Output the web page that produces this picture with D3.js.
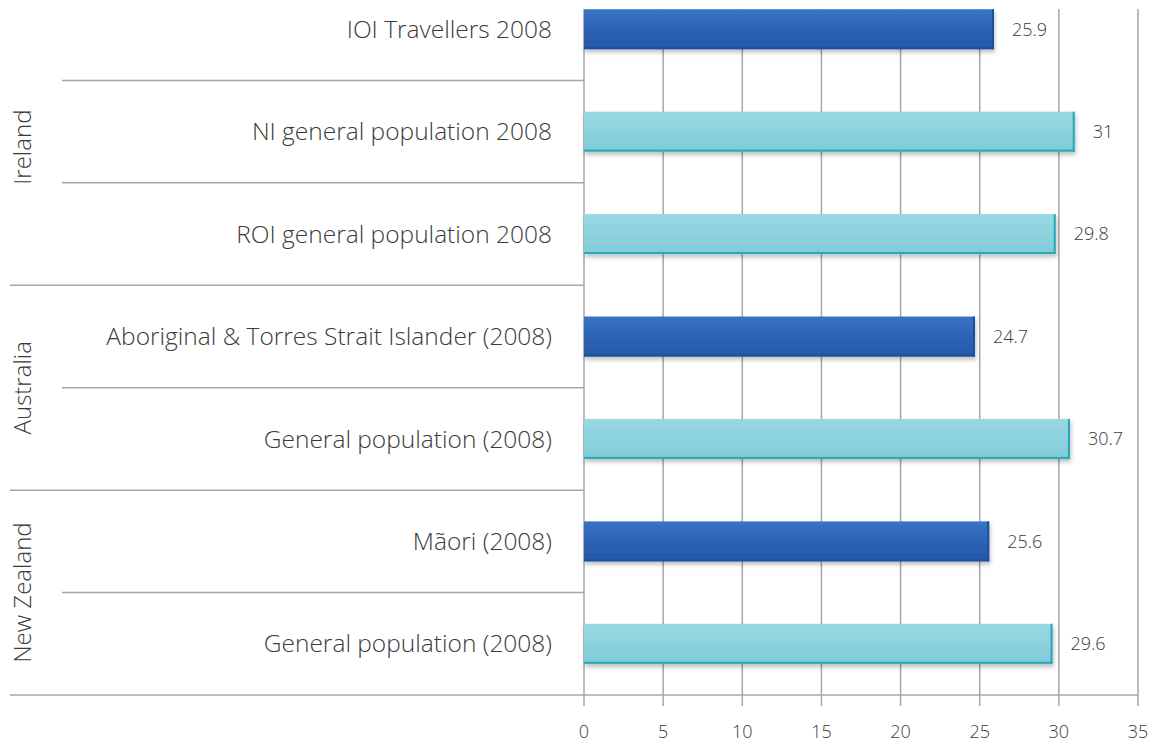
<!DOCTYPE html>
<html>
<head>
<meta charset="utf-8">
<script src="https://cdn.jsdelivr.net/npm/d3@7"></script>
<style>
  body { margin: 0; background: #fff; }
  svg text { font-family: "Open Sans", "Noto Sans", sans-serif; font-weight: 300; fill: #3a3a3a; }
</style>
</head>
<body>
<svg id="chart" width="1153" height="747"></svg>
<script>
// data, top to bottom
const labels = [
  "IOI Travellers 2008",
  "NI general population 2008",
  "ROI general population 2008",
  "Aboriginal & Torres Strait Islander (2008)",
  "General population (2008)",
  "Mãori (2008)",
  "General population (2008) "
];
const values = [25.9, 31, 29.8, 24.7, 30.7, 25.6, 29.6];
const kinds = ["minority", "general", "general", "minority", "general", "minority", "general"];
const groups = ["Ireland", "Australia", "New Zealand"];
const groupSize = [3, 2, 2];
const xTicks = [0, 5, 10, 15, 20, 25, 30, 35];

const svg = d3.select("#chart");
const clipTop = 9, axisY = 695;

const x = d3.scaleLinear().domain([0, 35]).range([584, 1138]);
const y = d3.scaleBand().domain(d3.range(labels.length)).range([-22, axisY]).paddingInner(0.61).paddingOuter(0.305);
const bandStep = y.step();
const gap = (bandStep - y.bandwidth()) / 2;

const defs = svg.append("defs");
const grads = {
  minority: ["#3a74c4", "#2d63b6", "#2658a8"],
  general: ["#98d8e2", "#8dd2de", "#80ccd9"]
};
Object.entries(grads).forEach(([k, c]) => {
  const g = defs.append("linearGradient").attr("id", "g-" + k).attr("x1", 0).attr("x2", 0).attr("y1", 0).attr("y2", 1);
  g.append("stop").attr("offset", "0%").attr("stop-color", c[0]);
  g.append("stop").attr("offset", "50%").attr("stop-color", c[1]);
  g.append("stop").attr("offset", "100%").attr("stop-color", c[2]);
});
const edge = { minority: "#1f4f9c", general: "#27a8b8" };
defs.append("filter").attr("id", "shadow").attr("x", "-5%").attr("y", "-20%").attr("width", "110%").attr("height", "160%")
  .append("feDropShadow").attr("dx", 1).attr("dy", 3).attr("stdDeviation", 2).attr("flood-color", "#000").attr("flood-opacity", 0.25);
defs.append("clipPath").attr("id", "plotClip").append("rect")
  .attr("x", 0).attr("y", clipTop).attr("width", 1153).attr("height", 747 - clipTop);

const plot = svg.append("g").attr("clip-path", "url(#plotClip)");

// vertical gridlines + ticks
plot.append("g").selectAll("line").data(xTicks).join("line")
  .attr("x1", d => x(d)).attr("x2", d => x(d))
  .attr("y1", clipTop).attr("y2", axisY + 11)
  .attr("stroke", "#a6a6a6").attr("stroke-width", 1.5);

// row separators
let rowIdx = 0;
const boundaries = [];
groupSize.forEach(n => {
  for (let i = 1; i <= n; i++) {
    rowIdx++;
    boundaries.push({ pos: rowIdx, full: i === n });
  }
});
plot.append("g").selectAll("line").data(boundaries).join("line")
  .attr("x1", d => d.full ? 10 : 62)
  .attr("x2", d => d.pos === labels.length ? x(35) : x(0))
  .attr("y1", d => y(d.pos - 1) + y.bandwidth() + gap)
  .attr("y2", d => y(d.pos - 1) + y.bandwidth() + gap)
  .attr("stroke", "#a6a6a6").attr("stroke-width", 1.5);

// bars
const bars = plot.append("g").selectAll("g").data(values).join("g")
  .attr("filter", "url(#shadow)");
bars.append("rect")
  .attr("x", x(0)).attr("y", (d, i) => y(i))
  .attr("width", d => x(d) - x(0)).attr("height", y.bandwidth())
  .attr("fill", (d, i) => `url(#g-${kinds[i]})`);
bars.append("rect")
  .attr("x", x(0)).attr("y", (d, i) => y(i) + y.bandwidth() - 2)
  .attr("width", d => x(d) - x(0)).attr("height", 2)
  .attr("fill", (d, i) => edge[kinds[i]]);
bars.append("rect")
  .attr("x", d => x(d) - 2).attr("y", (d, i) => y(i))
  .attr("width", 2).attr("height", y.bandwidth())
  .attr("fill", (d, i) => edge[kinds[i]]);

// value labels
plot.append("g").selectAll("text").data(values).join("text")
  .attr("x", d => x(d) + 18).attr("y", (d, i) => y(i) + y.bandwidth() / 2)
  .attr("dy", "0.35em").attr("font-size", 18)
  .text(d => d);

// category labels
plot.append("g").selectAll("text").data(labels).join("text")
  .attr("x", 552).attr("y", (d, i) => y(i) + y.bandwidth() / 2)
  .attr("dy", "0.35em").attr("text-anchor", "end").attr("font-size", 24.5)
  .text(d => d.trim());

// group labels, centred on visible part of each group
let start = 0;
groups.forEach((g, gi) => {
  const top = Math.max(clipTop, y(start) - gap);
  const bottom = y(start + groupSize[gi] - 1) + y.bandwidth() + gap;
  svg.append("text")
    .attr("transform", `translate(31,${(top + bottom) / 2}) rotate(-90)`)
    .attr("text-anchor", "middle").attr("font-size", 24)
    .text(g);
  start += groupSize[gi];
});

// x tick labels
svg.append("g").selectAll("text").data(xTicks).join("text")
  .attr("x", d => x(d)).attr("y", 738)
  .attr("text-anchor", "middle").attr("font-size", 18)
  .text(d => d);
</script>
</body>
</html>
